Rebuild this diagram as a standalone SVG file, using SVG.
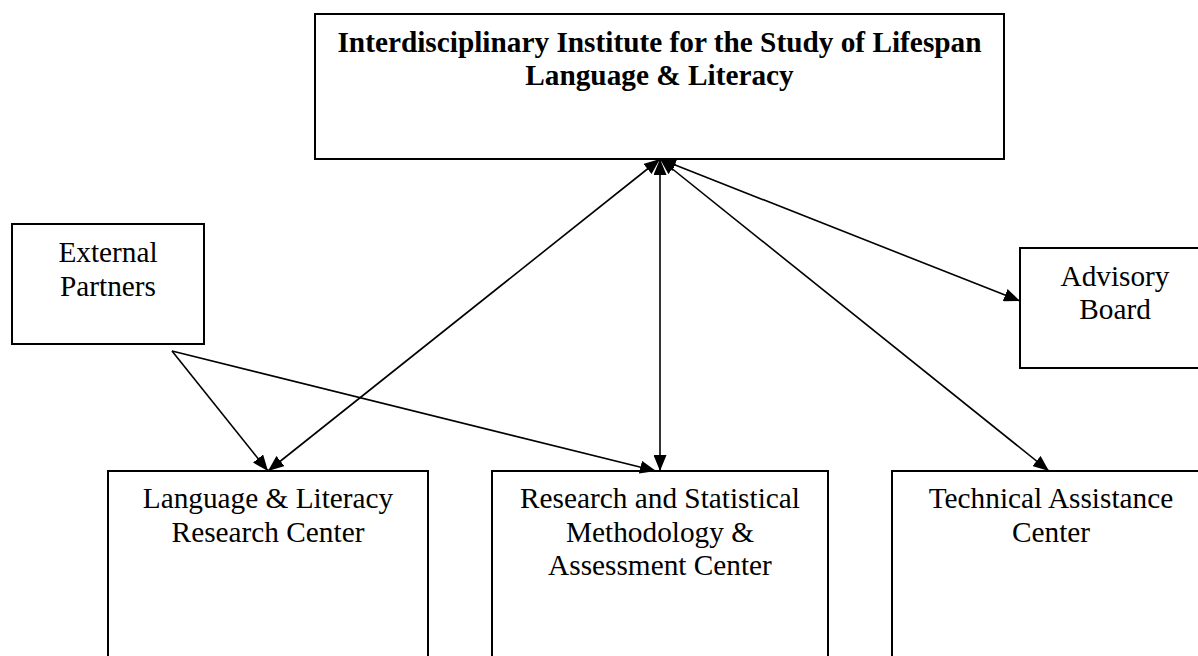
<svg xmlns="http://www.w3.org/2000/svg" width="1198" height="656" viewBox="0 0 1198 656">
  <style>
    .box { fill: #ffffff; stroke: #000000; stroke-width: 2; }
    .t { font-family: "Liberation Serif", "Times New Roman", serif; font-size: 29.3px; fill: #000000; text-anchor: middle; }
    .b { font-weight: bold; }
    .c { fill: none; stroke: #000000; stroke-width: 1.6; }
  </style>
  <defs>
    <marker id="ah" markerUnits="userSpaceOnUse" markerWidth="16" markerHeight="13" viewBox="0 0 16 13" refX="16" refY="6.5" orient="auto-start-reverse">
      <path d="M0,0 L16,6.5 L0,13 z" fill="#000000"/>
    </marker>
  </defs>
  <rect x="0" y="0" width="1198" height="656" fill="#ffffff"/>

  <g id="institute">
    <rect class="box" x="315" y="14" width="689" height="145"/>
    <text class="t b" x="659.5" y="52">Interdisciplinary Institute for the Study of Lifespan</text>
    <text class="t b" x="659.5" y="85">Language &amp; Literacy</text>
  </g>

  <g id="external-partners">
    <rect class="box" x="12" y="224" width="192" height="120"/>
    <text class="t" x="108" y="262">External</text>
    <text class="t" x="108" y="296">Partners</text>
  </g>

  <g id="advisory-board">
    <rect class="box" x="1020" y="248" width="190" height="120"/>
    <text class="t" x="1115" y="286">Advisory</text>
    <text class="t" x="1115" y="319">Board</text>
  </g>

  <g id="llrc">
    <rect class="box" x="108" y="471" width="320" height="240"/>
    <text class="t" x="268" y="508">Language &amp; Literacy</text>
    <text class="t" x="268" y="542">Research Center</text>
  </g>

  <g id="rsmac">
    <rect class="box" x="492" y="471" width="336" height="240"/>
    <text class="t" x="660" y="508">Research and Statistical</text>
    <text class="t" x="660" y="542">Methodology &amp;</text>
    <text class="t" x="660" y="575">Assessment Center</text>
  </g>

  <g id="tac">
    <rect class="box" x="892" y="471" width="318" height="240"/>
    <text class="t" x="1051" y="508">Technical Assistance</text>
    <text class="t" x="1051" y="542">Center</text>
  </g>

  <g id="connectors">
    <line class="c" x1="660" y1="159" x2="268" y2="471" marker-start="url(#ah)" marker-end="url(#ah)"/>
    <line class="c" x1="660" y1="159" x2="660" y2="471" marker-start="url(#ah)" marker-end="url(#ah)"/>
    <line class="c" x1="660" y1="159" x2="1049" y2="471" marker-start="url(#ah)" marker-end="url(#ah)"/>
    <line class="c" x1="660" y1="159" x2="1020" y2="301" marker-start="url(#ah)" marker-end="url(#ah)"/>
    <line class="c" x1="172" y1="351" x2="268" y2="471" marker-end="url(#ah)"/>
    <line class="c" x1="172" y1="351" x2="656" y2="471" marker-end="url(#ah)"/>
  </g>
</svg>
